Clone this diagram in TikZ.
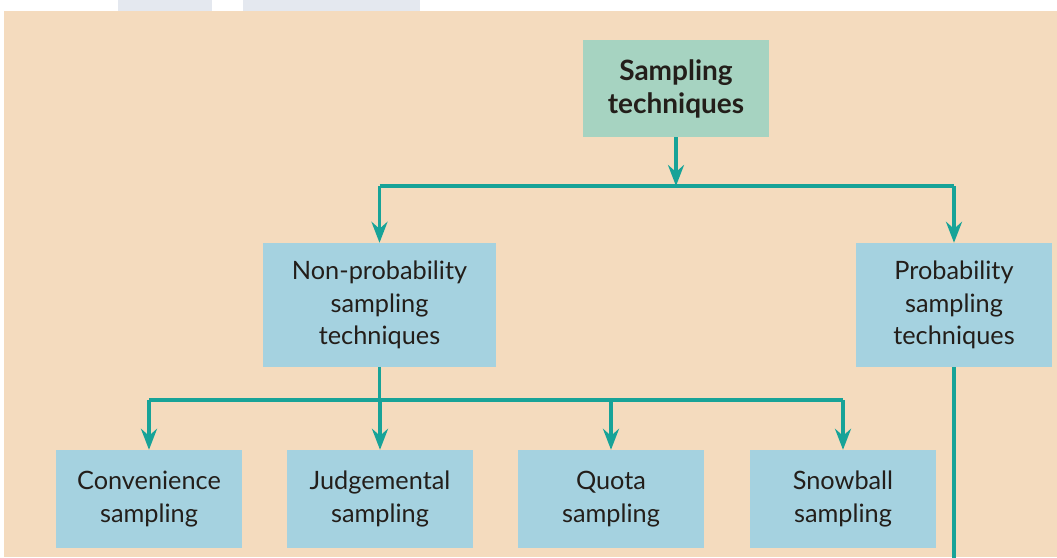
\documentclass[tikz,border=0pt]{standalone}
\usepackage{fontspec}
\setmainfont{Lato}
\usetikzlibrary{arrows.meta}
\definecolor{peach}{HTML}{F4DBBE}
\definecolor{greybar}{HTML}{E4E8EF}
\definecolor{topgreen}{HTML}{A6D3C1}
\definecolor{boxblue}{HTML}{A5D2E0}
\definecolor{teal}{HTML}{17A398}
\definecolor{txt}{HTML}{231E1A}
\tikzset{
  box/.style={fill=boxblue, draw=none, align=center, text=txt, font=\fontsize{25.3}{32.5}\selectfont, inner sep=0pt},
  topbox/.style={box, fill=topgreen, font=\bfseries\fontsize{28}{33}\selectfont},
  conn/.style={draw=teal, line width=3.5pt},
  arr/.style={conn, -{Stealth[length=21pt, width=16pt, inset=7pt]}}
}
\begin{document}
\begin{tikzpicture}[x=1pt,y=-1pt]
\useasboundingbox (0,0) rectangle (1057,557);
\fill[white] (0,0) rectangle (1057,557);
\fill[greybar] (118,0) rectangle (212,12);
\fill[greybar] (243,0) rectangle (420,12);
\fill[peach] (4,11) rectangle (1057,557);
\node[topbox, minimum width=186pt, minimum height=97pt] (top) at (676,88.5) {Sampling\\techniques};
\node[box, minimum width=233pt, minimum height=124pt] (np) at (379.5,305) {Non-probability\\sampling\\techniques};
\node[box, minimum width=196pt, minimum height=124pt] (pr) at (954,305) {Probability\\sampling\\techniques};
\node[box, minimum width=186pt, minimum height=98pt] (conv) at (149,499) {Convenience\\sampling};
\node[box, minimum width=186pt, minimum height=98pt] (judg) at (380,499) {Judgemental\\sampling};
\node[box, minimum width=186pt, minimum height=98pt] (quota) at (611,499) {Quota\\sampling};
\node[box, minimum width=186pt, minimum height=98pt] (snow) at (843,499) {Snowball\\sampling};
\coordinate (bus1) at (0,186);
\coordinate (bus2) at (0,400);
\coordinate (bottom) at (0,560);
% top level
\draw[arr] (top.south) -- (top.south |- bus1);
\draw[conn] (np.north |- bus1) -- (pr.north |- bus1);
\draw[arr] (np.north |- bus1) -- (np.north);
\draw[arr] (pr.north |- bus1) -- (pr.north);
% second level
\draw[conn] (np.south) -- (np.south |- bus2);
\draw[conn] (conv.north |- bus2) -- (snow.north |- bus2);
\draw[arr] (conv.north |- bus2) -- (conv.north);
\draw[arr] (judg.north |- bus2) -- (judg.north);
\draw[arr] (quota.north |- bus2) -- (quota.north);
\draw[arr] (snow.north |- bus2) -- (snow.north);
% probability continuation
\draw[conn] (pr.south) -- (pr.south |- bottom);
\end{tikzpicture}
\end{document}
